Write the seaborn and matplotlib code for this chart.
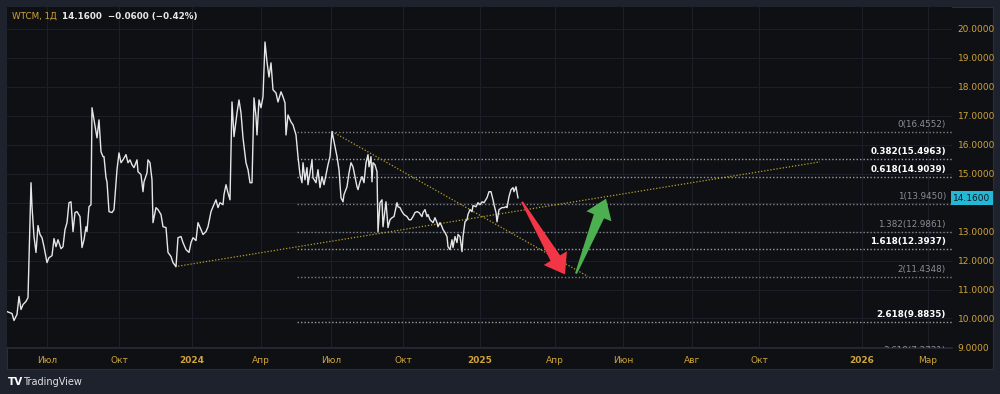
import numpy as np
import pandas as pd
import matplotlib
matplotlib.use("Agg")
import matplotlib.pyplot as plt
from matplotlib.patches import Rectangle, Polygon
import seaborn as sns

# bar positions (time index) and close prices
bar_pos = [7, 9, 12, 14, 17, 19, 21, 23, 26, 28, 31, 32, 34, 36, 38, 40, 42, 44, 47, 49,
           52, 54, 56, 58, 61, 63, 65, 67, 69, 71, 73, 75, 77, 80, 82, 84, 86, 87, 89, 91,
           92, 94, 96, 97, 99, 101, 103, 104, 106, 107, 109, 112, 114, 117, 119, 121, 123, 126, 128, 130,
           132, 134, 137, 138, 141, 143, 144, 147, 148, 150, 152, 153, 156, 158, 161, 163, 166, 168, 171, 173,
           176, 178, 181, 183, 186, 189, 191, 193, 196, 198, 201, 203, 206, 208, 211, 213, 216, 218, 220, 223,
           224, 226, 228, 230, 232, 234, 237, 239, 241, 243, 246, 248, 250, 252, 254, 256, 257, 259, 261, 263,
           265, 267, 269, 271, 273, 276, 278, 281, 283, 285, 286, 288, 291, 293, 296, 298, 300, 302, 303, 305,
           307, 308, 310, 312, 313, 316, 318, 320, 322, 324, 326, 328, 330, 332, 335, 337, 339, 341, 343, 344,
           347, 349, 351, 353, 355, 357, 358, 360, 362, 364, 366, 368, 369, 371, 372, 373, 375, 377, 378, 380,
           382, 383, 386, 388, 390, 392, 394, 397, 398, 400, 402, 404, 407, 409, 411, 413, 415, 417, 419, 422,
           423, 425, 427, 428, 430, 432, 433, 435, 437, 438, 440, 442, 443, 445, 447, 448, 450, 452, 453, 455,
           457, 458, 460, 462, 463, 465, 467, 468, 470, 472, 473, 476, 478, 480, 482, 484, 487, 489, 491, 493,
           494, 496, 497, 499, 502, 504, 506, 507, 509, 511, 513, 514, 516, 518]
close = [10.24, 10.21, 10.17, 9.93, 10.14, 10.76, 10.31, 10.48, 10.59, 10.72, 14.69, 13.86, 12.83, 12.28, 13.21, 12.90, 12.79, 12.48, 11.93, 12.10,
         12.17, 12.76, 12.48, 12.72, 12.41, 12.48, 13.07, 13.31, 14.00, 14.03, 13.00, 13.66, 13.69, 13.52, 12.45, 12.72, 13.17, 13.00, 13.86, 13.93,
         17.28, 16.86, 16.45, 16.24, 16.86, 15.76, 15.59, 15.59, 14.86, 14.72, 13.69, 13.66, 13.76, 15.14, 15.72, 15.38, 15.48, 15.66, 15.38, 15.48,
         15.31, 15.21, 15.48, 15.07, 14.97, 14.38, 14.72, 15.03, 15.48, 15.38, 14.79, 13.31, 13.83, 13.76, 13.59, 13.17, 13.14, 12.28, 12.14, 11.93,
         11.79, 12.79, 12.83, 12.62, 12.38, 12.28, 12.62, 12.79, 12.69, 13.31, 13.07, 12.90, 13.00, 13.17, 13.69, 13.86, 14.10, 13.83, 14.00, 13.93,
         14.28, 14.62, 14.34, 14.10, 17.48, 16.28, 17.10, 17.55, 17.10, 16.24, 15.38, 15.14, 14.69, 14.69, 17.62, 16.97, 16.34, 17.55, 17.28, 17.66,
         19.55, 18.86, 18.34, 18.83, 17.90, 17.79, 17.48, 17.83, 17.66, 17.45, 16.34, 17.03, 16.79, 16.69, 16.34, 15.59, 14.97, 14.69, 15.38, 14.79,
         15.21, 14.62, 15.03, 15.48, 14.86, 14.69, 15.14, 14.52, 14.90, 14.62, 14.97, 15.31, 15.59, 16.46, 15.93, 15.59, 15.14, 14.17, 14.03, 14.28,
         14.55, 15.03, 15.38, 15.24, 14.90, 14.55, 14.45, 14.72, 14.90, 14.69, 15.38, 15.66, 15.24, 15.59, 14.72, 15.38, 15.31, 15.07, 13.00, 14.00,
         14.10, 13.17, 14.03, 13.14, 13.41, 13.48, 13.52, 14.00, 13.86, 13.83, 13.69, 13.59, 13.52, 13.41, 13.41, 13.52, 13.66, 13.69, 13.66, 13.52,
         13.66, 13.76, 13.52, 13.59, 13.41, 13.34, 13.31, 13.48, 13.31, 13.17, 13.31, 13.17, 13.07, 12.97, 12.83, 12.48, 12.38, 12.72, 12.45, 12.83,
         12.62, 12.90, 12.83, 12.31, 12.83, 13.34, 13.41, 13.59, 13.76, 13.69, 13.90, 13.86, 14.00, 13.93, 14.03, 14.00, 14.17, 14.38, 14.38, 14.10,
         13.93, 13.66, 13.34, 13.76, 13.83, 13.83, 13.86, 13.83, 14.21, 14.45, 14.52, 14.38, 14.55, 14.16]

# time axis labels
tick_pos = [47, 119, 192, 261, 331, 403, 480, 555, 623, 692, 759, 862, 928]
tick_labels = ["Июл", "Окт", "2024", "Апр", "Июл", "Окт", "2025", "Апр", "Июн", "Авг", "Окт", "2026", "Мар"]
price_ticks = list(range(9, 21))

# fibonacci levels
fib_ratio = ["0", "0.382", "0.618", "1", "1.382", "1.618", "2", "2.618"]
fib_price = [16.4552, 15.4963, 14.9039, 13.9450, 12.9861, 12.3937, 11.4348, 9.8835]
fib_bold = [False, True, True, False, False, True, False, True]
fib_start = 297

# trend lines: (bar, price) pairs
support_line = ([175, 820], [11.79, 15.41])
resist_line = ([332, 588], [16.46, 11.45])

# hand-drawn arrows: start -> tip
red_arrow = ([522, 565], [14.03, 11.52])
green_arrow = ([576, 606], [11.55, 14.14])

last_price = 14.16

BG = "#0f1014"
FRAME = "#1e222d"
GRID = "#1c1f27"
GOLD = "#cfa43a"

sns.set_theme(style="dark")
plt.rcParams["font.family"] = ["DejaVu Sans"]

W, H = 1000, 394
fig = plt.figure(figsize=(10, 3.94), dpi=100, facecolor=FRAME)
fig.patches.append(Rectangle((7 / W, 1 - 369 / H), 986 / W, 362 / H, transform=fig.transFigure,
                             facecolor=BG, edgecolor="#2a2e39", lw=0.8, zorder=-5))
ax = fig.add_axes([7 / W, 1 - 348 / H, 945 / W, 341 / H])
ax.set_zorder(2)
ax.set_facecolor(BG)
ax.set_xlim(7, 952)
ax.set_ylim(8.98, 20.76)

df = pd.DataFrame({"bar": bar_pos, "close": close})
sns.lineplot(data=df, x="bar", y="close", ax=ax, color="#e6e6e6", lw=1.0, zorder=5)

# grid
for t in tick_pos:
    ax.axvline(t, color=GRID, lw=0.8, zorder=1)
for p in price_ticks:
    ax.axhline(p, color=GRID, lw=0.8, zorder=1)

# fib levels
for r, p, b in zip(fib_ratio, fib_price, fib_bold):
    ax.hlines(p, fib_start, 952, colors="#9a9ca4" if b else "#7c7f88", lw=1.0,
              linestyles=(0, (1, 1.5)), zorder=3)
    ax.text(946, p + 0.1, f"{r}({p:.4f})", ha="right", va="bottom", fontsize=6.3,
            color="#ffffff" if b else "#8b8e97", fontweight="bold" if b else "normal", zorder=6)
ax.text(946, 8.9, "3.618(7.3731)", ha="right", va="center", fontsize=6.3, color="#8b8e97", clip_on=True)

# trend lines
for xs, ys in (support_line, resist_line):
    ax.plot(xs, ys, color="#b8a22a", lw=0.9, linestyle=(0, (1, 1.5)), zorder=4)


def arrow_patch(xs, ys, color):
    to_px = ax.transData
    p0 = to_px.transform((xs[0], ys[0]))
    p1 = to_px.transform((xs[1], ys[1]))
    d = p1 - p0
    u = d / np.hypot(*d)
    n = np.array([-u[1], u[0]])
    head = 19
    base = p1 - u * head
    pts = [p0 + n * 1, base + n * 5.5, base + n * 13.5, p1, base - n * 13.5, base - n * 5.5, p0 - n * 1]
    pts = to_px.inverted().transform(np.array(pts))
    return Polygon(pts, closed=True, facecolor=color, edgecolor="none", zorder=7)


ax.add_patch(arrow_patch(*red_arrow, "#f23645"))
ax.add_patch(arrow_patch(*green_arrow, "#4caf50"))

# axes styling
ax.set_xticks(tick_pos)
ax.set_xticklabels(tick_labels)
for lbl in ax.get_xticklabels():
    if lbl.get_text().isdigit():
        lbl.set_fontweight("bold")
ax.yaxis.tick_right()
ax.set_yticks(price_ticks)
ax.set_yticklabels([f"{p:.4f}" if p != 14 else "" for p in price_ticks])
ax.tick_params(axis="x", length=0, pad=6, labelsize=6.5, labelcolor=GOLD)
ax.tick_params(axis="y", length=0, pad=4, labelsize=6.5, labelcolor=GOLD)
ax.set_xlabel("")
ax.set_ylabel("")
ax.grid(False)
for s in ax.spines.values():
    s.set_visible(False)
ax.spines["bottom"].set_visible(True)
ax.spines["bottom"].set_color("#262a33")

# last price tag (covers the 14.0000 label, as in the terminal)
ax.text(953, last_price, f"{last_price:.4f}", ha="left", va="center", fontsize=6.5, color="#131722",
        clip_on=False, zorder=10,
        bbox=dict(boxstyle="square,pad=0.25", facecolor="#22b8d6", edgecolor="none"))

# header and logo
fig.text(12 / W, 1 - 16 / H, "WTCM, 1Д", color=GOLD, fontsize=6.3, va="center", ha="left")
fig.text(62 / W, 1 - 16 / H, "14.1600  −0.0600 (−0.42%)", color="#e8e8e8", fontsize=6.3,
         va="center", ha="left", fontweight="bold")
fig.text(8 / W, 1 - 382 / H, "TV", color="#ffffff", fontsize=7.5, va="center", ha="left", fontweight="bold")
fig.text(23 / W, 1 - 382 / H, "TradingView", color="#e0e0e0", fontsize=7, va="center", ha="left")

fig.savefig("out.png", dpi=100, facecolor=FRAME)
